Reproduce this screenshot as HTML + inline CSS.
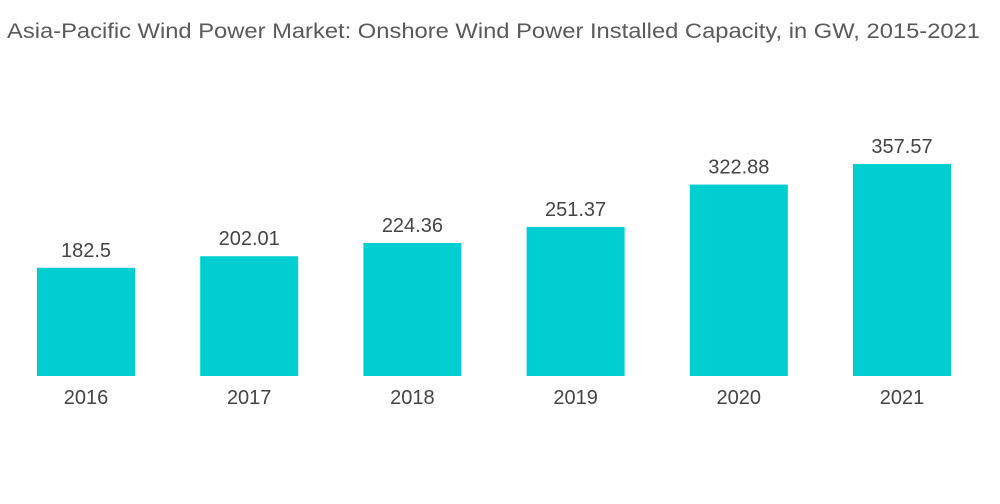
<!DOCTYPE html>
<html><head><meta charset="utf-8"><style>
html,body{margin:0;padding:0;background:#fff;width:1000px;height:504px;overflow:hidden}
svg text{font-family:"Liberation Sans",sans-serif}
</style></head><body>
<svg id="chart" width="1000" height="504" viewBox="0 0 1000 504" xmlns="http://www.w3.org/2000/svg">
<text x="7" y="38" font-size="21" fill="#5a5a5a" textLength="973" lengthAdjust="spacingAndGlyphs">Asia-Pacific Wind Power Market: Onshore Wind Power Installed Capacity, in GW, 2015-2021</text>
<g id="bars"></g>
</svg>
<script>
const categories = ["2016","2017","2018","2019","2020","2021"];
const values = [182.5, 202.01, 224.36, 251.37, 322.88, 357.57];
const valueLabels = ["182.5","202.01","224.36","251.37","322.88","357.57"];

const baseY = 376, pxPerUnit = 212/357.57;
const firstX = 37, step = 163.2, barW = 98;
function xScale(i){ return firstX + i*step; }
function yScale(v){ return baseY - v*pxPerUnit; }
const NS = "http://www.w3.org/2000/svg";
const g = document.getElementById("bars");
categories.forEach((c,i)=>{
  const x = xScale(i), y = yScale(values[i]);
  const r = document.createElementNS(NS,"rect");
  r.setAttribute("x",x); r.setAttribute("y",y);
  r.setAttribute("width",barW); r.setAttribute("height",baseY-y);
  r.setAttribute("fill","#00ced1");
  
  
  g.appendChild(r);
  const t = document.createElementNS(NS,"text");
  t.setAttribute("x",x+barW/2); t.setAttribute("y",y-11);
  t.setAttribute("text-anchor","middle"); t.setAttribute("font-size","20");
  t.setAttribute("fill","#444");
  t.textContent = valueLabels[i];
  
  
  g.appendChild(t);
  const l = document.createElementNS(NS,"text");
  l.setAttribute("x",x+barW/2); l.setAttribute("y",404);
  l.setAttribute("text-anchor","middle"); l.setAttribute("font-size","20");
  l.setAttribute("fill","#444");
  l.textContent = c;
  
  
  g.appendChild(l);
});
</script>
</body></html>
